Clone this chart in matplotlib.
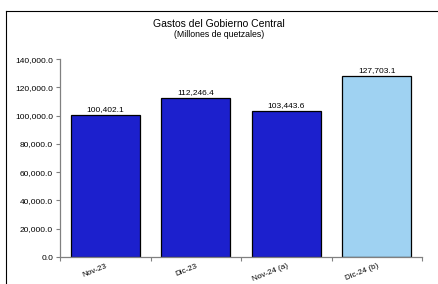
import matplotlib
matplotlib.use("Agg")
import matplotlib.pyplot as plt
from matplotlib.lines import Line2D
from matplotlib.ticker import FuncFormatter

# chart data
categories = ["Nov-23", "Dic-23", "Nov-24 (a)", "Dic-24 (b)"]
values = [100402.1, 112246.4, 103443.6, 127703.1]
bar_colors = ["#1c20cd", "#1c20cd", "#1c20cd", "#9fd2f2"]
y_ticks = [0, 20000, 40000, 60000, 80000, 100000, 120000, 140000]

plt.rcParams["font.family"] = ["Liberation Sans", "DejaVu Sans"]

fig = plt.figure(figsize=(4.38, 2.84), dpi=100)
ax = fig.add_axes([0.137, 0.095, 0.8265, 0.697])

# outer frame: only the left and top edges fall inside the picture
fx, fy = 5.5 / 438, 1 - 10.5 / 284
fig.lines.append(Line2D([fx, fx], [0, fy], transform=fig.transFigure,
                        color="black", linewidth=0.8))
fig.lines.append(Line2D([fx, 1], [fy, fy], transform=fig.transFigure,
                        color="black", linewidth=0.8))

x = list(range(len(categories)))
bars = ax.bar(x, values, width=0.76, color=bar_colors, edgecolor="black",
              linewidth=0.9, zorder=2)

for b, v in zip(bars, values):
    ax.text(b.get_x() + b.get_width() / 2, v + 1500, f"{v:,.1f}",
            ha="center", va="bottom", fontsize=6)

ax.set_xlim(-0.5, len(categories) - 0.5)
ax.set_ylim(0, 140000)
ax.set_yticks(y_ticks)
ax.yaxis.set_major_formatter(FuncFormatter(lambda v, p: f"{v:,.1f}"))

ax.set_xticks(x)
ax.set_xticklabels(categories, rotation=22, ha="right",
                   rotation_mode="anchor", fontsize=5.8)
ax.set_xticks([i + 0.5 for i in range(-1, len(categories))], minor=True)
ax.tick_params(axis="x", which="major", length=0, pad=4)
ax.tick_params(axis="x", which="minor", length=3, color="#808080", width=0.8)
ax.tick_params(axis="y", length=3, color="#808080", width=0.8,
               labelsize=6, pad=2)

for s in ["top", "right"]:
    ax.spines[s].set_visible(False)
for s in ["left", "bottom"]:
    ax.spines[s].set_color("#808080")
    ax.spines[s].set_linewidth(0.9)

fig.text(0.5, 1 - 24 / 284, "Gastos del Gobierno Central", ha="center",
         va="center", fontsize=7.5)
fig.text(0.5, 1 - 35 / 284, "(Millones de quetzales)", ha="center",
         va="center", fontsize=6.3)

fig.savefig("out.png", dpi=100)
